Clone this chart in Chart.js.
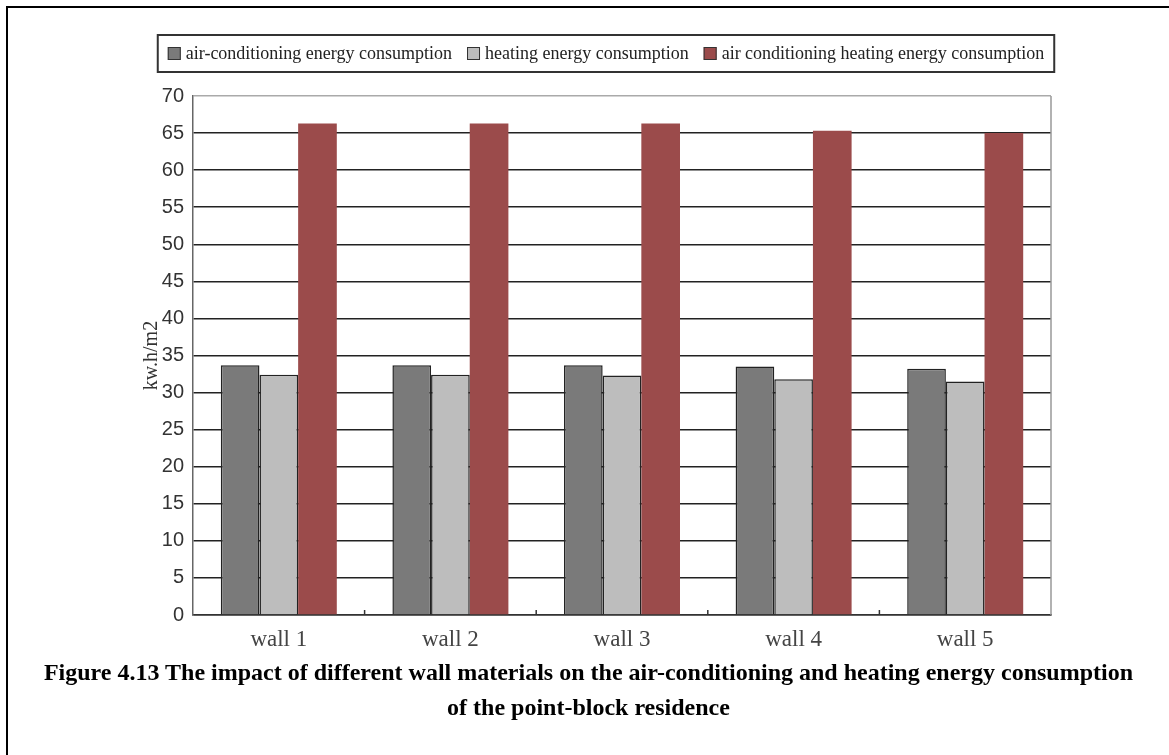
<!DOCTYPE html>
<html>
<head>
<meta charset="utf-8">
<script src="https://cdn.jsdelivr.net/npm/chart.js@4.4.1/dist/chart.umd.min.js"></script>
<style>
  html, body { margin: 0; padding: 0; background: #fff; overflow: hidden; }
  body { width: 1169px; height: 755px; position: relative; }
  #frame {
    position: absolute; left: 6px; top: 6px;
    width: 1300px; height: 900px;
    border: 2px solid #000;
  }
  #wrap { position: absolute; left: 0; top: 0; width: 1169px; height: 755px; }
  #caption {
    position: absolute; left: 8px; width: 1161px; top: 655px;
    text-align: center;
    font: bold 24px "Liberation Serif", "Times New Roman", serif;
    line-height: 35px; color: #000;
  }
</style>
</head>
<body>
<div id="frame"></div>
<div id="wrap"><canvas id="energyChart" width="1169" height="755"></canvas></div>
<div id="caption">Figure 4.13 The impact of different wall materials on the air-conditioning and heating energy consumption<br>of the point-block residence</div>

<script>
// Wall types on the x axis
const walls = ["wall 1", "wall 2", "wall 3", "wall 4", "wall 5"];

// kw.h/m2 per wall type
const acEnergy = [33.7, 33.7, 33.7, 33.5, 33.2];
const heatEnergy = [32.4, 32.4, 32.3, 31.8, 31.5];
const totalEnergy = [66.3, 66.3, 66.3, 65.3, 65.0];

const seriesNames = [
    "air-conditioning energy consumption",
    "heating energy consumption",
    "air conditioning heating energy consumption"
];

const yMin = 0, yMax = 70, yStep = 5;

// Boxed legend drawn above the plot, like the original figure
const boxedLegend = {
    id: "boxedLegend",
    afterDraw(chart) {
        const ctx = chart.ctx;
        const sets = chart.data.datasets;
        ctx.save();
        ctx.font = '18px "Liberation Serif", serif';
        const sq = 13, gapText = 5, gapItem = 15, padX = 10;
        const widths = sets.map(d => ctx.measureText(d.label).width);
        let total = padX * 2 + widths.reduce((a, b) => a + b, 0) +
            sets.length * (sq + gapText) + (sets.length - 1) * gapItem;
        const cx = 606, top = 35, h = 37;
        let x = cx - total / 2;
        ctx.strokeStyle = "#333";
        ctx.lineWidth = 2;
        ctx.strokeRect(x, top, total, h);
        x += padX;
        const cy = top + h / 2;
        ctx.textBaseline = "middle";
        sets.forEach((d, i) => {
            ctx.fillStyle = d.backgroundColor;
            ctx.fillRect(x, cy - sq / 2, sq, sq);
            ctx.strokeStyle = "#333";
            ctx.lineWidth = 1;
            ctx.strokeRect(x + 0.5, cy - sq / 2 + 0.5, sq - 1, sq - 1);
            x += sq + gapText;
            ctx.fillStyle = "#222";
            ctx.fillText(d.label, x, cy + 1);
            x += widths[i] + gapItem;
        });
        ctx.restore();
    }
};

// Right border of the plot and small category separators on the x axis
const plotExtras = {
    id: "plotExtras",
    afterDatasetsDraw(chart) {
        const ctx = chart.ctx;
        const area = chart.chartArea;
        const xs = chart.scales.x;
        ctx.save();
        ctx.strokeStyle = "#999";
        ctx.lineWidth = 1.5;
        ctx.beginPath();
        ctx.moveTo(area.right, area.top);
        ctx.lineTo(area.right, area.bottom);
        ctx.stroke();
        ctx.strokeStyle = "#333";
        ctx.lineWidth = 1.5;
        for (let i = 0; i < walls.length - 1; i++) {
            const bx = (xs.getPixelForValue(i) + xs.getPixelForValue(i + 1)) / 2;
            ctx.beginPath();
            ctx.moveTo(bx, area.bottom);
            ctx.lineTo(bx, area.bottom - 5);
            ctx.stroke();
        }
        ctx.restore();
    }
};

const ctx = document.getElementById("energyChart").getContext("2d");
new Chart(ctx, {
    type: "bar",
    data: {
        labels: walls,
        datasets: [
            {
                label: seriesNames[0],
                data: acEnergy,
                backgroundColor: "#7a7a7a",
                borderColor: "#222",
                borderWidth: 1.5
            },
            {
                label: seriesNames[1],
                data: heatEnergy,
                backgroundColor: "#bdbdbd",
                borderColor: "#222",
                borderWidth: 1.5
            },
            {
                label: seriesNames[2],
                data: totalEnergy,
                backgroundColor: "#9b4b4b",
                borderWidth: 0
            }
        ]
    },
    options: {
        responsive: false,
        animation: false,
        layout: { padding: { top: 96, left: 138, right: 118, bottom: 100 } },
        datasets: {
            bar: { categoryPercentage: 0.676, barPercentage: 1.0 }
        },
        plugins: {
            legend: { display: false },
            tooltip: { enabled: false }
        },
        scales: {
            x: {
                grid: { display: false },
                border: { display: true, color: "#333", width: 1.5 },
                ticks: {
                    padding: 3,
                    color: "#444",
                    font: { family: '"Liberation Serif", serif', size: 23 }
                },
                afterFit(scale) { scale.height = 40; }
            },
            y: {
                min: yMin,
                max: yMax,
                ticks: {
                    stepSize: yStep,
                    padding: 9,
                    color: "#333",
                    font: { family: '"Liberation Sans", Arial, sans-serif', size: 20 }
                },
                grid: {
                    drawTicks: false,
                    lineWidth: 1.5,
                    color: (c) => c.tick && c.tick.value === yMax ? "#aaa" : "#222"
                },
                border: { display: true, color: "#666", width: 1.5 },
                title: {
                    display: true,
                    text: "kw.h/m2",
                    color: "#333",
                    font: { family: '"Liberation Serif", serif', size: 20 },
                    padding: { top: 2, bottom: 4 }
                },
                afterFit(scale) { scale.width = 55; }
            }
        }
    },
    plugins: [boxedLegend, plotExtras]
});
</script>
</body>
</html>
